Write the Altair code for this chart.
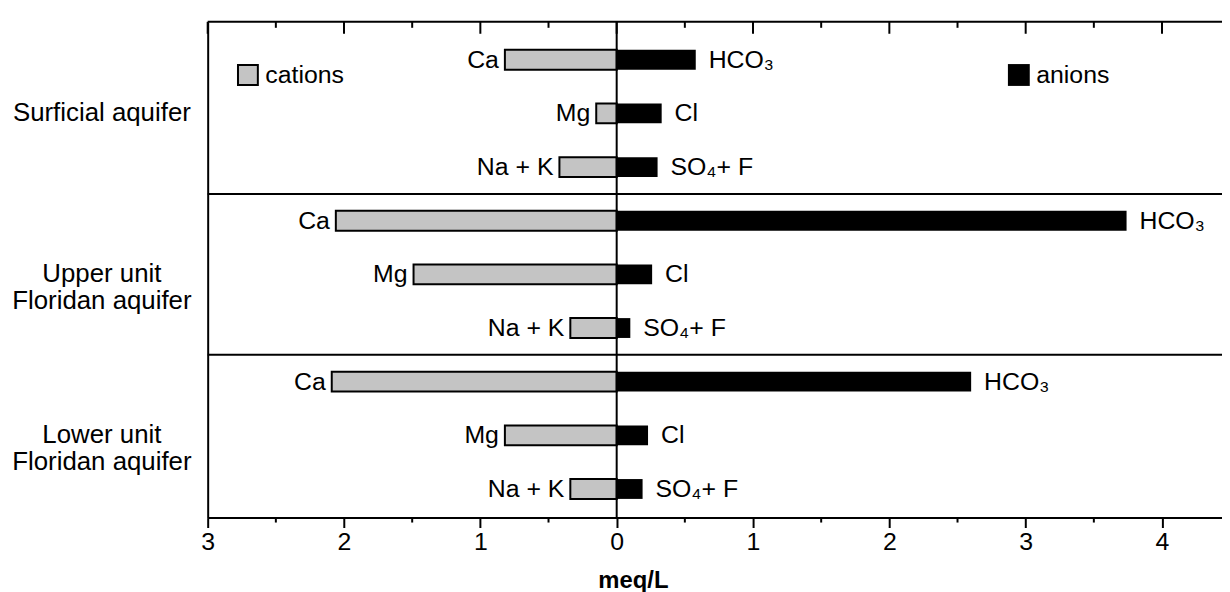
import altair as alt
import pandas as pd

# ---------------- data ----------------
groups = ["Surficial aquifer", "Upper unit Floridan aquifer", "Lower unit Floridan aquifer"]
group_label_lines = [["Surficial aquifer"], ["Upper unit", "Floridan aquifer"], ["Lower unit", "Floridan aquifer"]]
cation_names = ["Ca", "Mg", "Na + K"]
anion_names = ["HCO₃", "Cl", "SO₄+ F"]
cations_surficial = [0.82, 0.15, 0.42]
cations_upper = [2.06, 1.49, 0.34]
cations_lower = [2.09, 0.82, 0.34]
anions_surficial = [0.58, 0.33, 0.30]
anions_upper = [3.74, 0.26, 0.10]
anions_lower = [2.60, 0.23, 0.19]
major_ticks = [-3, -2, -1, 0, 1, 2, 3, 4]
minor_ticks = [-2.5, -1.5, -0.5, 0.5, 1.5, 2.5, 3.5]
x_domain = [-3, 4.44]

cation_values = [cations_surficial, cations_upper, cations_lower]
anion_values = [anions_surficial, anions_upper, anions_lower]

row_order = [f"{g}|{i}" for g in groups for i in range(3)]

cat_rows, an_rows = [], []
for g, cv, av in zip(groups, cation_values, anion_values):
    for i in range(3):
        cat_rows.append({"row": f"{g}|{i}", "label": cation_names[i], "value": cv[i], "ckind": "cations"})
        an_rows.append({"row": f"{g}|{i}", "label": anion_names[i], "value": av[i], "akind": "anions"})
cat_df = pd.DataFrame(cat_rows)
an_df = pd.DataFrame(an_rows)
sep_df = pd.DataFrame({"row": [f"{g}|0" for g in groups[1:]]})
major_df = pd.DataFrame({"xv": major_ticks})
minor_df = pd.DataFrame({"xv": minor_ticks})
zero_df = pd.DataFrame({"xv": [0]})

# ---------------- layout ----------------
W, H = 1021, 499
FONT = "Liberation Sans"
FS = 25

parts = []
for g, lines in zip(groups, group_label_lines):
    arr = "[" + ", ".join("'" + l + "'" for l in lines) + "]"
    parts.append(f"datum.value === '{g}|1' ? {arr}")
label_expr = " : ".join(parts) + " : ''"

xscale = alt.Scale(domain=x_domain, nice=False, zero=False)
xaxis = alt.Axis(values=major_ticks, labelExpr="abs(datum.value)", tickSize=10, tickWidth=2,
                 tickColor="black", domainColor="black", domainWidth=2, labelFontSize=FS,
                 labelPadding=2, labelFlush=False, grid=False, labelColor="black",
                 title="meq/L", titleFontSize=24, titleFontWeight="bold", titleX=428, titleY=70,
                 titleAlign="center", titleBaseline="alphabetic", titleColor="black")
yscale = alt.Scale(domain=row_order, paddingInner=0.63, paddingOuter=0.435, align=0.6)
yaxis = alt.Axis(title=None, ticks=False, domain=True, domainColor="black", domainWidth=2,
                 labelExpr=label_expr, labelAlign="center", labelPadding=107, labelFontSize=26,
                 labelLineHeight=27, labelBaseline="middle", labelLimit=0, labelColor="black", grid=False)

Y = alt.Y("row:N", scale=yscale, axis=yaxis, sort=row_order)

cat_base = alt.Chart(cat_df).transform_calculate(xv="-datum.value")
an_base = alt.Chart(an_df).transform_calculate(xv="datum.value")

cat_bars = cat_base.mark_bar(stroke="black", strokeWidth=2).encode(
    y=Y,
    x=alt.X("xv:Q", scale=xscale, axis=xaxis),
    x2=alt.datum(0),
    fill=alt.Fill("ckind:N", scale=alt.Scale(domain=["cations"], range=["#c4c4c4"]),
                  legend=alt.Legend(orient="none", legendX=28, legendY=41, title=None,
                                    symbolType="square", symbolSize=400, symbolStrokeColor="black",
                                    symbolStrokeWidth=2, labelFontSize=FS, labelOffset=5,
                                    labelColor="black", padding=0)),
)
an_bars = an_base.mark_bar().encode(
    y=Y,
    x=alt.X("xv:Q", scale=xscale),
    x2=alt.datum(0),
    color=alt.Color("akind:N", scale=alt.Scale(domain=["anions"], range=["black"]),
                    legend=alt.Legend(orient="none", legendX=804, legendY=41, title=None,
                                      symbolType="square", symbolSize=484, symbolOpacity=1,
                                      labelFontSize=FS, labelOffset=5, labelColor="black", padding=0)),
)
cat_text = cat_base.mark_text(align="right", baseline="middle", dx=-6, fontSize=FS, color="black").encode(
    y=Y, x=alt.X("xv:Q", scale=xscale), text="label:N")
an_text = an_base.mark_text(align="left", baseline="middle", dx=13, fontSize=FS, color="black").encode(
    y=Y, x=alt.X("xv:Q", scale=xscale), text="label:N")

seps = alt.Chart(sep_df).mark_rule(color="black", strokeWidth=2, yOffset=-27).encode(
    y=Y, x=alt.value(0), x2=alt.value(W))
top_line = alt.Chart(zero_df).mark_rule(color="black", strokeWidth=2).encode(
    y=alt.value(0), x=alt.value(0), x2=alt.value(W))
zero_line = alt.Chart(zero_df).mark_rule(color="black", strokeWidth=2).encode(
    x=alt.X("xv:Q", scale=xscale), y=alt.value(0), y2=alt.value(H))
top_major = alt.Chart(major_df).mark_rule(color="black", strokeWidth=2).encode(
    x=alt.X("xv:Q", scale=xscale), y=alt.value(0), y2=alt.value(12))
top_minor = alt.Chart(minor_df).mark_rule(color="black", strokeWidth=2).encode(
    x=alt.X("xv:Q", scale=xscale), y=alt.value(0), y2=alt.value(6))
bot_minor = alt.Chart(minor_df).mark_rule(color="black", strokeWidth=2).encode(
    x=alt.X("xv:Q", scale=xscale), y=alt.value(H), y2=alt.value(H + 5))

chart = alt.layer(
    cat_bars, an_bars, cat_text, an_text, seps, top_line, zero_line, top_major, top_minor, bot_minor
).properties(
    width=W, height=H,
    padding={"left": 201, "top": 12, "right": 0, "bottom": 76},
    autosize=alt.AutoSizeParams(type="none"),
).configure(font=FONT).configure_view(stroke=None)

chart.save("out.html", embed_options={"renderer": "svg", "actions": False})
